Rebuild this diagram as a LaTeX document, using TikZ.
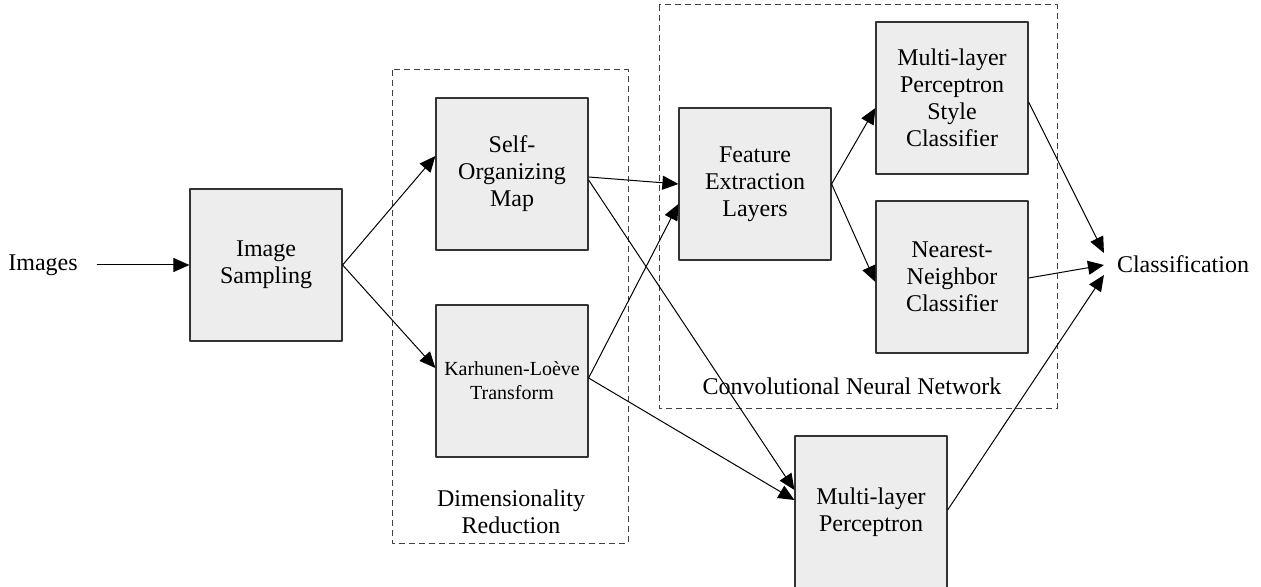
\documentclass[tikz,border=0pt]{standalone}
\usepackage{fontspec}
\setmainfont{Liberation Serif}
\usetikzlibrary{arrows.meta}
\begin{document}
\begin{tikzpicture}[x=0.5pt,y=-0.5pt,>={Triangle[length=8pt,width=7pt]}, font=\fontsize{12}{13.5}\selectfont, line join=round,
	blk/.style={draw=black!80, line width=0.6pt, fill=black!7, minimum width=76pt, minimum height=76pt, align=center, inner sep=2pt},
	grp/.style={draw=black!75, line width=0.5pt, dash pattern=on 3pt off 2pt},
	con/.style={->, line width=0.5pt}]
	\useasboundingbox (0,0) rectangle (1261,587);
	% groups
	\draw[grp] (392,70) rectangle (628,543);
	\draw[grp] (659,5) rectangle (1057,408);
	\node[align=center] (dimlbl) at (511,512) {Dimensionality\\Reduction};
	\node (cnnlbl) at (852,386) {Convolutional Neural Network};
	% blocks
	\node (img) at (43,265) {Images};
	\node[blk] (samp) at (266,265) {Image\\Sampling};
	\node[blk] (som) at (512,174) {Self-\\Organizing\\Map};
	\node[blk, font=\fontsize{10}{12}\selectfont] (klt) at (512,381) {Karhunen-Loève\\Transform};
	\node[blk] (fe) at (755,184) {Feature\\Extraction\\Layers};
	\node[blk] (mlpsc) at (952,98) {Multi-layer\\Perceptron\\Style\\Classifier};
	\node[blk] (nn) at (952,277) {Nearest-\\Neighbor\\Classifier};
	\node[blk] (mlp) at (871,512) {Multi-layer\\Perceptron};
	\node (cls) at (1183,264) {Classification};
	% connectors
	\draw[con] ([xshift=6pt]img.east) -- (samp.west);
	\draw[con] (samp.east) -- ([yshift=9pt]som.west);
	\draw[con] (samp.east) -- ([yshift=6.5pt]klt.west);
	\draw[con] ([yshift=-1.5pt]som.east) -- (fe.west);
	\draw[con] ([yshift=-3pt]som.east) -- ([yshift=11pt]mlp.west);
	\draw[con] ([yshift=1.5pt]klt.east) -- ([yshift=-10pt]fe.west);
	\draw[con] ([yshift=1.5pt]klt.east) -- ([yshift=6pt]mlp.west);
	\draw[con] (fe.east) -- ([yshift=-5pt]mlpsc.west);
	\draw[con] (fe.east) -- ([yshift=-2.5pt]nn.west);
	\draw[con] ([yshift=-2pt]mlpsc.east) -- ([xshift=-3pt,yshift=5.5pt]cls.west);
	\draw[con] ([yshift=-0.5pt]nn.east) -- ([xshift=-3pt,yshift=-0.5pt]cls.west);
	\draw[con] ([yshift=1pt]mlp.east) -- ([xshift=-3pt,yshift=-5.5pt]cls.west);
\end{tikzpicture}
\end{document}
